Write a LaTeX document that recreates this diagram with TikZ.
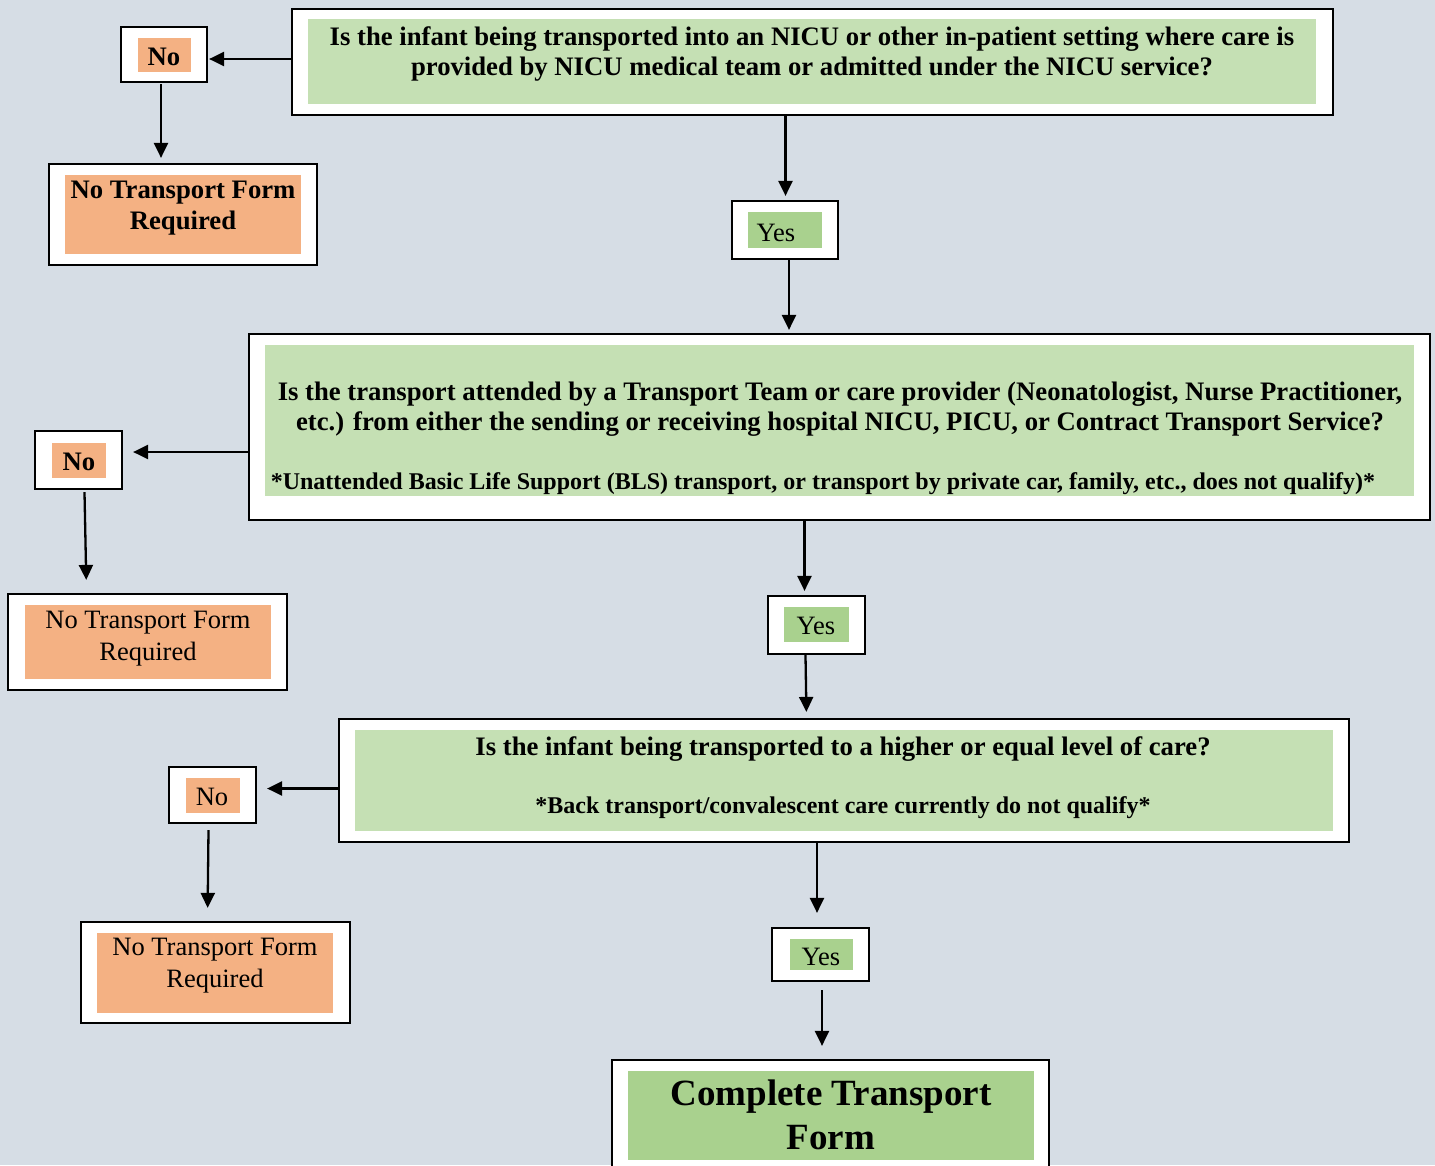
\documentclass[tikz,border=0pt]{standalone}
\usepackage{fontspec}
\setmainfont{Liberation Serif}
\usetikzlibrary{arrows.meta,fit}
\definecolor{bg}{HTML}{D6DDE5}
\definecolor{qgreen}{HTML}{C5E0B4}
\definecolor{ygreen}{HTML}{A9D18E}
\definecolor{noorange}{HTML}{F4B183}
\tikzset{
  outerbox/.style={draw=black, line width=2.2pt, fill=white, inner sep=0pt},
  qfill/.style={fill=qgreen, inner sep=0pt},
  yfill/.style={fill=ygreen, inner sep=0pt},
  nfill/.style={fill=noorange, inner sep=0pt},
  btext/.style={font=\fontsize{26.7}{30.5}\selectfont\bfseries, align=center, inner sep=0pt, yshift=-2pt},
  rtext/.style={font=\fontsize{26.5}{32}\selectfont, align=center, inner sep=0pt, yshift=-2pt},
  ftext/.style={font=\fontsize{24}{28}\selectfont\bfseries, align=center, inner sep=0pt, yshift=-2pt},
  bigtext/.style={font=\fontsize{37}{44}\selectfont\bfseries, align=center, inner sep=0pt},
  arr/.style={line width=2.3pt, -{Triangle[length=15pt,width=14pt]}},
}
\begin{document}
\begin{tikzpicture}[x=1pt,y=-1pt]
\useasboundingbox (0,0) rectangle (1435,1165);
\fill[bg] (0,0) rectangle (1435,1165);

% Question 1
\node[outerbox, fit={(292,9) (1333,115)}] (q1) {};
\node[qfill, fit={(308,19) (1316,104)}] (q1in) {};
\node[btext] (q1t) at (812,52) {Is the infant being transported into an NICU or other in-patient setting where care is\\provided by NICU medical team or admitted under the NICU service?};

% No 1
\node[outerbox, fit={(121,27) (207,82)}] (no1) {};
\node[nfill, fit={(138,38) (191,72)}] (no1in) {};
\node[btext] (no1t) at (164,55) {No};

\node[outerbox, fit={(49,164) (317,265)}] (nf1) {};
\node[nfill, fit={(65,175) (301,254)}] (nf1in) {};
\node[btext] (nf1t) at (183,206) {No Transport Form\\Required};

% Yes 1
\node[outerbox, fit={(732,201) (838,259)}] (yes1) {};
\node[yfill, fit={(748,212) (822,248)}] (yes1in) {};
\node[rtext] (yes1t) at (776,231) {Yes};

% Question 2
\node[outerbox, fit={(249,334) (1430,520)}] (q2) {};
\node[qfill, fit={(265,345) (1414,496)}] (q2in) {};
\node[btext] (q2t) at (840,407) {Is the transport attended by a Transport Team or care provider (Neonatologist, Nurse Practitioner,\\etc.) from either the sending or receiving hospital NICU, PICU, or Contract Transport Service?};
\node[ftext] (q2f) at (823,482) {*Unattended Basic Life Support (BLS) transport, or transport by private car, family, etc., does not qualify)*};

% No 2
\node[outerbox, fit={(35,431) (122,489)}] (no2) {};
\node[nfill, fit={(52,443) (106,478)}] (no2in) {};
\node[btext] (no2t) at (79,460) {No};

\node[outerbox, fit={(8,594) (287,690)}] (nf2) {};
\node[nfill, fit={(25,605) (271,679)}] (nf2in) {};
\node[rtext] (nf2t) at (148,637) {No Transport Form\\Required};

% Yes 2
\node[outerbox, fit={(768,596) (865,654)}] (yes2) {};
\node[yfill, fit={(784,607) (849,642)}] (yes2in) {};
\node[rtext] (yes2t) at (816,624) {Yes};

% Question 3
\node[outerbox, fit={(339,719) (1349,842)}] (q3) {};
\node[qfill, fit={(355,730) (1333,831)}] (q3in) {};
\node[btext] (q3t) at (843,747) {Is the infant being transported to a higher or equal level of care?};
\node[ftext] (q3f) at (843,806) {*Back transport/convalescent care currently do not qualify*};

% No 3
\node[outerbox, fit={(169,767) (256,823)}] (no3) {};
\node[nfill, fit={(186,778) (240,813)}] (no3in) {};
\node[rtext] (no3t) at (212,795) {No};

\node[outerbox, fit={(81,922) (350,1023)}] (nf3) {};
\node[nfill, fit={(97,933) (333,1013)}] (nf3in) {};
\node[rtext] (nf3t) at (215,964) {No Transport Form\\Required};

% Yes 3
\node[outerbox, fit={(772,928) (869,981)}] (yes3) {};
\node[yfill, fit={(790,939) (853,970)}] (yes3in) {};
\node[rtext] (yes3t) at (821,955) {Yes};

% Complete
\node[outerbox, fit={(612,1060) (1049,1180)}] (done) {};
\node[yfill, fit={(628,1071) (1034,1160)}] (donein) {};
\node[bigtext] (donet) at (831,1115) {Complete Transport\\Form};

% Connectors
\draw[arr] ([yshift=3pt]q1.west) -- ([yshift=3pt,xshift=1pt]q1.west -| no1.east);
\draw[arr, shorten >=5pt] ([xshift=-3pt,yshift=-1pt]no1.south) -- ([xshift=-3pt]no1.south |- nf1.north);
\draw[arr, shorten >=4pt] ([xshift=-27pt]q1.south) -- ([xshift=-27pt]q1.south |- yes1.north);
\draw[arr, shorten >=3pt] ([xshift=4pt]yes1.south) -- ([xshift=4pt]yes1.south |- q2.north);

\draw[arr] ([yshift=-25pt]q2.west) -- ([yshift=-25pt,xshift=10pt]q2.west -| no2.east);
\draw[arr, shorten >=13pt] ([xshift=6pt,yshift=-2pt]no2.south) -- ([xshift=8pt]no2.south |- nf2.north);
\draw[arr, shorten >=4pt] ([xshift=-35pt]q2.south) -- ([xshift=-35pt]q2.south |- yes2.north);
\draw[arr, shorten >=6pt] ([xshift=-11pt]yes2.south) -- ([xshift=-10pt]yes2.south |- q3.north);

\draw[arr] ([yshift=-8pt,xshift=2pt]q3.west) -- ([yshift=-8pt,xshift=10pt]q3.west -| no3.east);
\draw[arr, shorten >=13pt] ([xshift=-4pt,yshift=-6pt]no3.south) -- ([xshift=-5pt]no3.south |- nf3.north);
\draw[arr, shorten >=14pt] ([xshift=-27pt]q3.south) -- ([xshift=-27pt]q3.south |- yes3.north);
\draw[arr, shorten >=13pt] ([xshift=1.5pt,yshift=-8pt]yes3.south) -- ([xshift=1.5pt]yes3.south |- done.north);
\end{tikzpicture}
\end{document}
